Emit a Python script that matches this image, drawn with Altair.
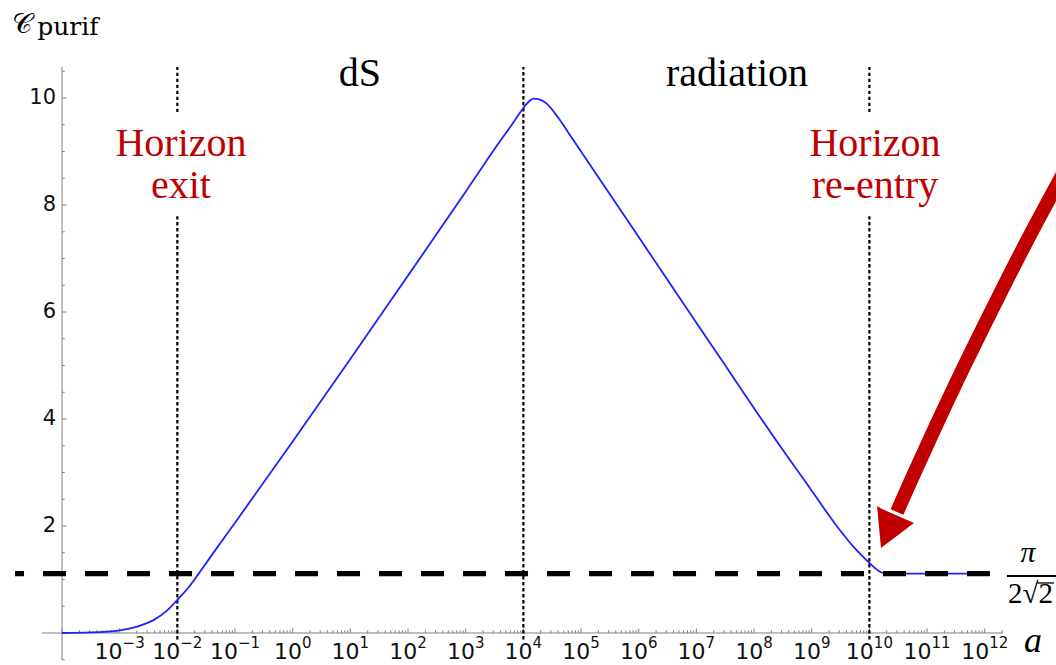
import altair as alt
import pandas as pd
import math

# ---------------- data ----------------
# curve: log10(a) and C_purif
log_a = [-4.0, -3.5, -3.0, -2.7, -2.4, -2.2, -2.0, -1.8, -1.63, -1.4,
         -1.0, 0.0, 1.0, 2.0, 3.0, 3.6, 3.8, 3.95, 4.05,
         4.12, 4.18, 4.26, 4.4, 4.6, 4.8, 5.0, 6.0, 7.0, 7.52,
         8.0, 8.5, 8.91, 9.2, 9.49, 9.75, 9.99, 10.1, 10.21, 10.3,
         11.0, 12.0]
c_purif = [0.0, 0.01, 0.05, 0.12, 0.25, 0.40, 0.62, 0.86, 1.11, 1.46,
           2.06, 3.58, 5.12, 6.68, 8.25, 9.20, 9.50, 9.74, 9.88,
           9.96, 9.99, 9.98, 9.90, 9.64, 9.32, 9.00, 7.40, 5.80, 4.97,
           4.20, 3.42, 2.80, 2.35, 1.92, 1.58, 1.32, 1.21, 1.13, 1.111,
           1.111, 1.111]

plateau = math.pi / (2 * math.sqrt(2))
plateau_span = [-4.815, 12.09]          # log10(a) extent of dashed line

# dotted vertical segments: (log10 a, C from, C to)
dotted_segments = [(-2, -0.12, 7.79), (-2, 9.74, 10.58),
                   (4, -0.12, 10.58),
                   (10, -0.12, 7.79), (10, 9.74, 10.58)]

x_label_exps = list(range(-3, 13))
y_label_vals = [2, 4, 6, 8, 10]

# annotations (text, log10 a, C)
red_texts = [("Horizon", -1.937, 8.916), ("exit", -1.937, 8.131),
             ("Horizon", 10.097, 8.916), ("re-entry", 10.097, 8.131)]
black_texts = [("dS", 1.167, 10.224), ("radiation", 7.705, 10.224)]

arrow_shaft_log = [13.392, 12.740, 12.210, 11.636, 11.096, 10.701, 10.479]
arrow_shaft_c = [8.654, 7.346, 6.224, 4.972, 3.738, 2.804, 2.262]
head_log = [10.133, 10.201, 10.773]
head_top = [2.375, 2.325, 2.056]
head_bot = [2.375, 1.589, 2.056]

# ---------------- scales / layout ----------------
X0, X1 = -4.347, 12.317
Y0, Y1 = -0.505, 10.58
W, H = 961, 593
PXD = W / (X1 - X0)
PXU = H / (Y1 - Y0)

xs = alt.Scale(type="log", domain=[10 ** X0, 10 ** X1], nice=False)
ys = alt.Scale(domain=[Y0, Y1], nice=False, zero=False)


def ex(f):
    return alt.X(f, type="quantitative", scale=xs, axis=None)


def ey(f):
    return alt.Y(f, type="quantitative", scale=ys, axis=None)


AX = "#808080"
RED = "#c00000"
SERIF = "Liberation Serif"
SANS = "DejaVu Sans"

layers = []

# axes lines
xaxis = pd.DataFrame({"x": [10 ** X0], "x2": [10 ** X1], "y": [0.0]})
layers.append(alt.Chart(xaxis).mark_rule(color=AX, strokeWidth=1).encode(
    x=ex("x"), x2="x2", y=ey("y")))
yaxis = pd.DataFrame({"x": [1e-4], "y": [Y0], "y2": [Y1]})
layers.append(alt.Chart(yaxis).mark_rule(color=AX, strokeWidth=1).encode(
    x=ex("x"), y=ey("y"), y2="y2"))

# x ticks (pointing up)
xt = []
for k in range(-4, 13):
    xt.append({"x": 10.0 ** k, "y": 0.0, "y2": 4.5 / PXU})
    for m in range(2, 10):
        v = m * 10.0 ** k
        if math.log10(v) < X1:
            xt.append({"x": v, "y": 0.0, "y2": 2.7 / PXU})
layers.append(alt.Chart(pd.DataFrame(xt)).mark_rule(color=AX, strokeWidth=1).encode(
    x=ex("x"), y=ey("y"), y2="y2"))

# y ticks (pointing right)
yt = []
for i in range(-1, 22):
    v = i * 0.5
    if v == 0:
        continue
    ln = 4.5 if (v in y_label_vals) else 2.7
    yt.append({"y": v, "x": 1e-4, "x2": 10 ** (-4 + ln / PXD)})
layers.append(alt.Chart(pd.DataFrame(yt)).mark_rule(color=AX, strokeWidth=1).encode(
    x=ex("x"), x2="x2", y=ey("y")))

# x tick labels: "10" + raised exponent, centred on the tick
BASE_FS, EXP_FS = 22, 15
base_w = 2 * 0.636 * BASE_FS
rows_b, rows_e = [], []
for k in x_label_exps:
    es = str(k).replace("-", "\u2212")
    w_exp = sum(0.838 if ch == "\u2212" else 0.636 for ch in es) * EXP_FS
    split = -(base_w + w_exp) / 2 + base_w
    xv = 10 ** (k + split / PXD)
    rows_b.append({"x": xv, "y": -26 / PXU, "t": "10"})
    rows_e.append({"x": xv, "y": -15 / PXU, "t": es})
layers.append(alt.Chart(pd.DataFrame(rows_b)).mark_text(
    font=SANS, fontSize=BASE_FS, color="#111", align="right", baseline="alphabetic").encode(
    x=ex("x"), y=ey("y"), text="t:N"))
layers.append(alt.Chart(pd.DataFrame(rows_e)).mark_text(
    font=SANS, fontSize=EXP_FS, color="#111", align="left", baseline="alphabetic").encode(
    x=ex("x"), y=ey("y"), text="t:N"))

# y tick labels
yl = pd.DataFrame({"x": [10 ** (-4 - 6 / PXD)] * len(y_label_vals), "y": y_label_vals,
                   "t": [str(v) for v in y_label_vals]})
layers.append(alt.Chart(yl).mark_text(font=SANS, fontSize=21, color="#111",
                                      align="right", baseline="middle").encode(
    x=ex("x"), y=ey("y"), text="t:N"))

# dotted verticals
ds = pd.DataFrame([{"x": 10.0 ** l, "y": a, "y2": b} for l, a, b in dotted_segments])
layers.append(alt.Chart(ds).mark_rule(color="#000", strokeWidth=2.2, strokeDash=[3.3, 2.7]).encode(
    x=ex("x"), y=ey("y"), y2="y2"))

# curve
cdf = pd.DataFrame({"x": [10.0 ** l for l in log_a], "y": c_purif, "i": range(len(log_a))})
layers.append(alt.Chart(cdf).mark_line(color="#2020ff", strokeWidth=1.8, interpolate="monotone").encode(
    x=ex("x"), y=ey("y"), order="i:Q"))

# plateau dashed line
pdf = pd.DataFrame({"x": [10 ** plateau_span[0]], "x2": [10 ** plateau_span[1]], "y": [plateau]})
layers.append(alt.Chart(pdf).mark_rule(color="black", strokeWidth=5.3, strokeDash=[23, 19],
                                       strokeDashOffset=14).encode(
    x=ex("x"), x2="x2", y=ey("y")))

# annotation texts
rt = pd.DataFrame([{"t": t, "x": 10 ** l, "y": c} for t, l, c in red_texts])
layers.append(alt.Chart(rt).mark_text(font=SERIF, fontSize=40, color=RED,
                                      align="center", baseline="alphabetic").encode(
    x=ex("x"), y=ey("y"), text="t:N"))
bt = pd.DataFrame([{"t": t, "x": 10 ** l, "y": c} for t, l, c in black_texts])
layers.append(alt.Chart(bt).mark_text(font=SERIF, fontSize=40, color="black",
                                      align="center", baseline="alphabetic").encode(
    x=ex("x"), y=ey("y"), text="t:N"))

# arrow
sdf = pd.DataFrame({"x": [10 ** l for l in arrow_shaft_log], "y": arrow_shaft_c,
                    "i": range(len(arrow_shaft_log))})
layers.append(alt.Chart(sdf).mark_line(color=RED, strokeWidth=14, interpolate="catmull-rom",
                                       strokeCap="butt").encode(
    x=ex("x"), y=ey("y"), order="i:Q"))
hdf = pd.DataFrame({"x": [10 ** l for l in head_log], "y": head_top, "y2": head_bot})
layers.append(alt.Chart(hdf).mark_area(color=RED, opacity=1).encode(
    x=ex("x"), y=ey("y"), y2="y2"))

# pi / (2 sqrt 2) label
fb = pd.DataFrame({"x": [10 ** 12.386], "x2": [10 ** 13.305], "y": [1.065]})
layers.append(alt.Chart(fb).mark_rule(color="black", strokeWidth=2).encode(
    x=ex("x"), x2="x2", y=ey("y")))
pit = pd.DataFrame({"t": ["π"], "x": [10 ** 12.75], "y": [1.333]})
layers.append(alt.Chart(pit).mark_text(font=SERIF, fontSize=30, fontStyle="italic", color="black",
                                       align="center", baseline="alphabetic").encode(
    x=ex("x"), y=ey("y"), text="t:N"))
rt2 = pd.DataFrame({"t": ["2√2"], "x": [10 ** 12.404], "y": [0.561]})
layers.append(alt.Chart(rt2).mark_text(font=SERIF, fontSize=29, color="black",
                                       align="left", baseline="alphabetic").encode(
    x=ex("x"), y=ey("y"), text="t:N"))
ob = pd.DataFrame({"x": [10 ** 12.907], "x2": [10 ** 13.201], "y": [0.935]})
layers.append(alt.Chart(ob).mark_rule(color="black", strokeWidth=1.3).encode(
    x=ex("x"), x2="x2", y=ey("y")))

# axis symbol a
at = pd.DataFrame({"t": ["a"], "x": [10 ** 12.837], "y": [-0.355]})
layers.append(alt.Chart(at).mark_text(font=SERIF, fontSize=36, fontStyle="italic", color="black",
                                      align="center", baseline="alphabetic").encode(
    x=ex("x"), y=ey("y"), text="t:N"))

# y title
ct = pd.DataFrame({"t": ["𝒞"], "x": [10 ** -4.867], "y": [11.215]})
layers.append(alt.Chart(ct).mark_text(font="DejaVu Serif, DejaVu Sans", fontSize=28, color="black",
                                      align="left", baseline="alphabetic").encode(
    x=ex("x"), y=ey("y"), text="t:N"))
pt = pd.DataFrame({"t": ["purif"], "x": [10 ** -4.43], "y": [11.178]})
layers.append(alt.Chart(pt).mark_text(font="DejaVu Serif", fontSize=25, color="black",
                                      align="left", baseline="alphabetic").encode(
    x=ex("x"), y=ey("y"), text="t:N"))

chart = alt.layer(*layers).properties(
    width=W, height=H,
    padding={"left": 42, "top": 67, "right": 53, "bottom": 5},
    autosize=alt.AutoSizeParams(type="none"),
).configure_view(stroke=None)

chart.save("out.html", embed_options={"renderer": "svg", "actions": False})
